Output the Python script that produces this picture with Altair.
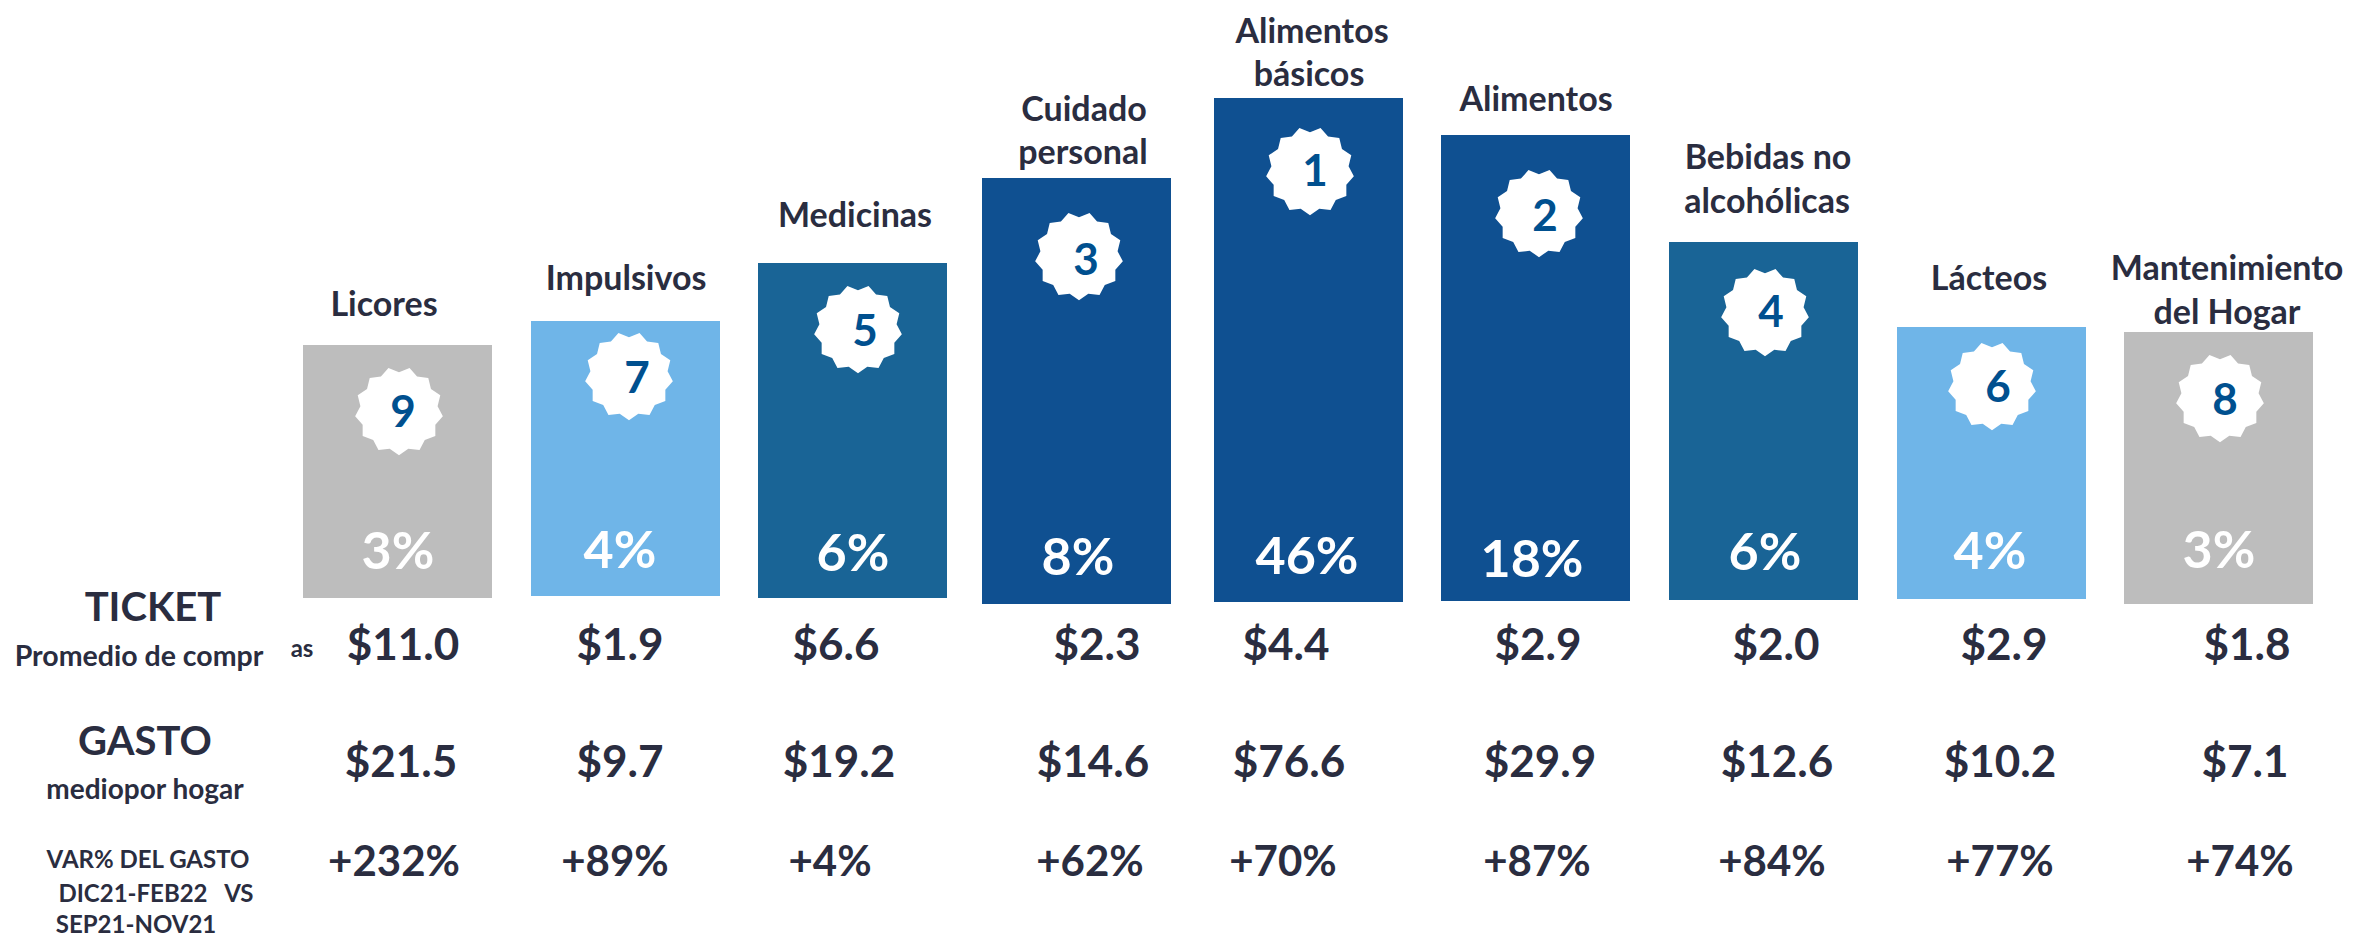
import math
import altair as alt
import pandas as pd

# --- values ---
categories = ["Licores", "Impulsivos", "Medicinas", "Cuidado personal", "Alimentos básicos",
              "Alimentos", "Bebidas no alcohólicas", "Lácteos", "Mantenimiento del Hogar"]
shares = ["3%", "4%", "6%", "8%", "46%", "18%", "6%", "4%", "3%"]
ranks = ["9", "7", "5", "3", "1", "2", "4", "6", "8"]
ticket = ["$11.0", "$1.9", "$6.6", "$2.3", "$4.4", "$2.9", "$2.0", "$2.9", "$1.8"]
gasto = ["$21.5", "$9.7", "$19.2", "$14.6", "$76.6", "$29.9", "$12.6", "$10.2", "$7.1"]
var_gasto = ["+232%", "+89%", "+4%", "+62%", "+70%", "+87%", "+84%", "+77%", "+74%"]

bar_left = [303, 531, 758, 982, 1214, 1441, 1669, 1897, 2124]
bar_right = [492, 720, 947, 1171, 1403, 1630, 1858, 2086, 2313]
bar_top = [345, 321, 263, 178, 98, 135, 242, 327, 332]
bar_base = [598, 596, 598, 604, 602, 601, 600, 599, 604]
bar_colors = ["#BDBDBD", "#6FB5E8", "#196496", "#0F5091", "#0F5091", "#0F5091", "#196496", "#6FB5E8", "#BDBDBD"]

share_x = [398, 620, 853, 1078, 1307, 1532, 1765, 1990, 2219]
share_y = [553, 552, 555, 559, 558, 561, 554, 553, 552]
badge_x = [399, 629, 858, 1079, 1310, 1539, 1765, 1992, 2220]
badge_y = [411, 376, 329, 256, 171, 213, 312, 386, 398]
rank_x = [403, 637, 865, 1086, 1315, 1545, 1771, 1998, 2225]
rank_y = [414, 380, 333, 262, 173, 218, 314, 389, 402]
ticket_x = [403, 620, 836, 1097, 1286, 1538, 1776, 2004, 2247]
gasto_x = [401, 620, 839, 1093, 1289, 1540, 1777, 2000, 2245]
var_x = [394, 615, 830, 1090, 1283, 1537, 1772, 2000, 2240]
ticket_y, gasto_y, var_y = 647, 764, 863

label_text = ["Licores", "Impulsivos", "Medicinas", "Cuidado", "personal", "Alimentos", "básicos", "Alimentos",
              "Bebidas no", "alcohólicas", "Lácteos", "Mantenimiento", "del Hogar"]
label_x = [384, 626, 855, 1084, 1083, 1312, 1309, 1536, 1768, 1767, 1989, 2227, 2227]
label_y = [306, 280, 217, 111, 154, 33, 76, 101, 159, 203, 280, 270, 314]

big_text = ["TICKET", "GASTO"]
big_x = [153, 145]
big_y = [609, 743]
small_text = ["VAR% DEL GASTO", "DIC21-FEB22\u00a0\u00a0\u00a0VS", "SEP21-NOV21"]
small_x = [148, 156, 136]
small_y = [861, 895, 926]

DARK = "#2A2D40"
BADGE_TEXT = "#00508F"
FONT = "Lato"

# --- scales: picture units on both axes ---
X = alt.Scale(domain=[8, 2346], nice=False, zero=False)
Y = alt.Scale(domain=[938, 8], nice=False, zero=False)


def xenc(f="x"):
    return alt.X(f"{f}:Q", scale=X, axis=None)


def yenc(f="y"):
    return alt.Y(f"{f}:Q", scale=Y, axis=None)


def text_layer(texts, xs, ys, size, color=DARK, weight="bold"):
    df = pd.DataFrame({"t": texts, "x": xs, "y": ys})
    return alt.Chart(df).mark_text(font=FONT, fontSize=size, fontWeight=weight, color=color,
                                   align="center", baseline="middle").encode(
        x=xenc(), y=yenc(), text="t:N")


# scalloped badge outline
pts = []
n = 13
for i in range(2 * n):
    r = 1.0 if i % 2 == 0 else 0.88
    a = math.pi / 2 + i * math.pi / n
    pts.append(f"{r * math.cos(a):.3f},{r * math.sin(a):.3f}")
badge_path = "M" + " L".join(pts) + " Z"

bars_df = pd.DataFrame({"cat": categories, "x": bar_left, "x2": bar_right, "y": bar_top, "y2": bar_base, "c": bar_colors})
bars = alt.Chart(bars_df).mark_rect().encode(
    x=xenc(), x2="x2:Q", y=yenc(), y2="y2:Q", color=alt.Color("c:N", scale=None))

badge_df = pd.DataFrame({"x": badge_x, "y": badge_y})
badges = alt.Chart(badge_df).mark_point(shape=badge_path, filled=True, color="white", opacity=1, size=7800).encode(
    x=xenc(), y=yenc())

layers = [
    bars,
    badges,
    text_layer(ranks, rank_x, rank_y, 44, BADGE_TEXT),
    text_layer(shares, share_x, share_y, 52, "white"),
    text_layer(label_text, label_x, label_y, 34),
    text_layer(ticket, ticket_x, [ticket_y] * 9, 44),
    text_layer(gasto, gasto_x, [gasto_y] * 9, 44),
    text_layer(var_gasto, var_x, [var_y] * 9, 42),
    text_layer(big_text, big_x, big_y, 40),
    text_layer(["Promedio de compr"], [139], [657], 28.5),
    text_layer(["mediopor hogar"], [145], [791], 28),
    text_layer(["as"], [302], [650], 24),
    text_layer(small_text, small_x, small_y, 24),
]

chart = alt.layer(*layers).properties(
    width=2338, height=930, padding=0, background="white", autosize=alt.AutoSizeParams(type="none")
).configure_view(stroke=None)

chart.save("out.html", embed_options={"renderer": "svg", "actions": False})
